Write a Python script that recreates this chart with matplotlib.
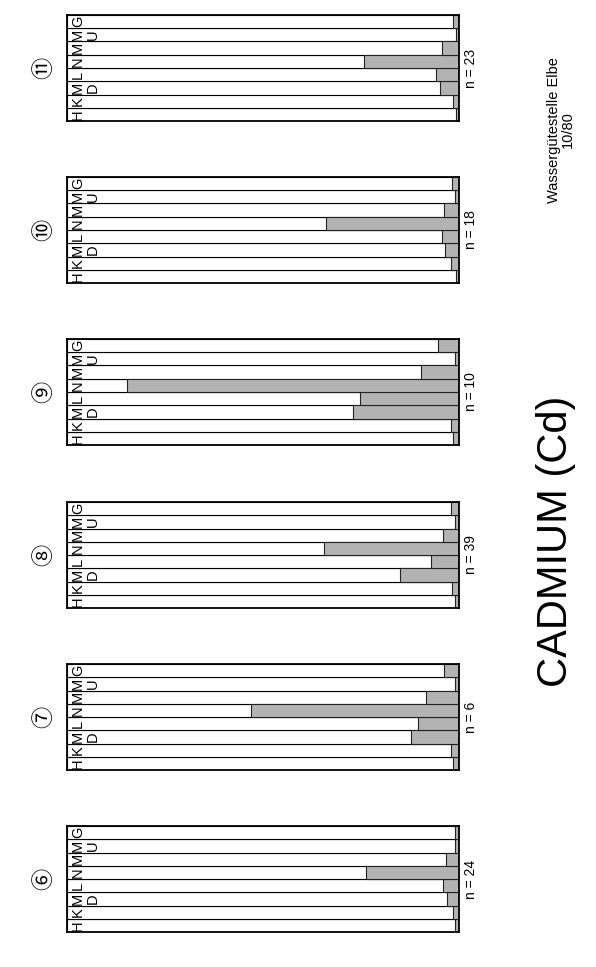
import matplotlib
matplotlib.use("Agg")
import matplotlib.pyplot as plt
import matplotlib.transforms as mtransforms

plt.rcParams['font.family'] = ['Liberation Sans', 'DejaVu Sans']

# rows from bottom (H) to top (G) as seen in the rotated sheet
rows_top = ["H", "K", "M", "L", "N", "M", "M", "G"]
rows_sub = ["", "", "D", "", "", "", "U", ""]

# panels, top of the sheet first
panel_ids = ["⑪", "⑩", "⑨", "⑧", "⑦", "⑥"]
panel_n = [23, 18, 10, 39, 6, 24]

# share (percent of full bar) per row, H .. G
cd_11 = [0.9, 1.6, 5.0, 5.9, 24.4, 4.4, 0.8, 1.5]
cd_10 = [0.8, 2.1, 3.6, 4.4, 33.9, 3.8, 1.0, 1.9]
cd_9 = [1.6, 2.1, 27.1, 25.3, 84.8, 9.7, 1.0, 5.5]
cd_8 = [1.2, 1.9, 15.1, 7.2, 34.6, 4.2, 1.2, 2.1]
cd_7 = [1.5, 2.1, 12.2, 10.5, 53.1, 8.5, 1.2, 4.0]
cd_6 = [1.0, 1.7, 3.2, 4.1, 23.9, 3.5, 1.0, 1.0]
panel_vals = [cd_11, cd_10, cd_9, cd_8, cd_7, cd_6]

W, H = 596, 967
fig = plt.figure(figsize=(W / 100, H / 100), dpi=100)

left = 67.3 / W
width = 392 / W
tops = [15, 177, 339, 502, 664, 826]
ph = 106

ypos = list(range(len(rows_top)))
for top, pid, n, vals in zip(tops, panel_ids, panel_n, panel_vals):
    ax = fig.add_axes([left, 1 - (top + ph) / H, width, ph / H])
    ax.barh(ypos, [100] * len(ypos), height=1.0, color="white",
            edgecolor="black", linewidth=0.8)
    ax.barh(ypos, vals, height=1.0, color="#b3b3b3",
            edgecolor="#222222", linewidth=0.8)
    ax.set_xlim(100, 0)
    ax.set_ylim(-0.5, len(ypos) - 0.5)
    ax.set_xticks([])
    ax.set_yticks([])
    for s in ax.spines.values():
        s.set_linewidth(1.3)
    tr = mtransforms.blended_transform_factory(ax.transAxes, ax.transData)
    for y, a, b in zip(ypos, rows_top, rows_sub):
        ax.text(0.027, y, a, transform=tr, rotation=90, ha="center",
                va="center", fontsize=10.5)
        if b:
            ax.text(0.066, y, b, transform=tr, rotation=90, ha="center",
                    va="center", fontsize=10.5)
    ax.text(1.03, 0.5, f"n = {n}", transform=ax.transAxes, rotation=90,
            ha="center", va="center", fontsize=10)
    ax.text(-0.061, 0.5, pid, transform=ax.transAxes, rotation=90,
            ha="center", va="center", fontsize=16,
            family=['Noto Sans CJK JP', 'DejaVu Sans'])

fig.text(556 / W, 1 - 541 / H, "CADMIUM (Cd)", rotation=90, ha="center",
         va="center", fontsize=30)
fig.text(561 / W, 1 - 130 / H, "Wassergütestelle Elbe\n10/80", rotation=90,
         ha="center", va="center", fontsize=10.5, multialignment="center",
         linespacing=1.0)

fig.savefig("out.png", dpi=100)
